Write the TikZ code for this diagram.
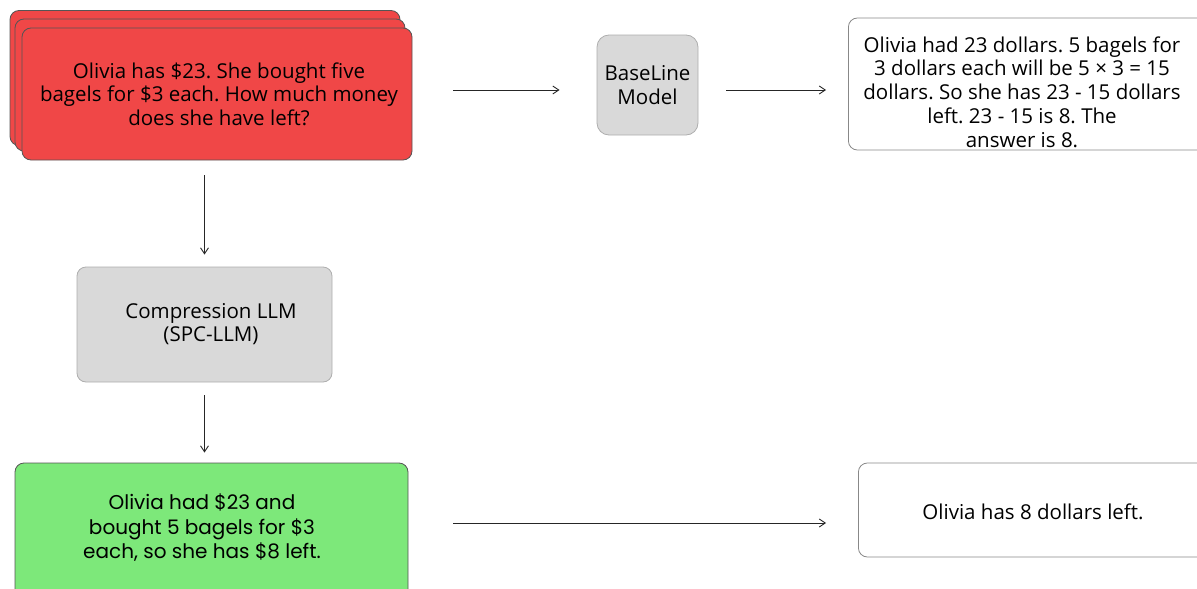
\documentclass[tikz,border=0pt]{standalone}
\usepackage{fontspec}
\setmainfont{Open Sans}
\newfontfamily\greenfont{Poppins}
\usetikzlibrary{arrows.meta}
\definecolor{redfill}{HTML}{F04747}
\definecolor{greenfill}{HTML}{7DE87A}
\definecolor{grayfill}{HTML}{D9D9D9}
\definecolor{edge}{HTML}{555555}
\frenchspacing
\tikzset{
  txt/.style={align=center, font=\fontsize{20.5}{23.8}\selectfont},
  box/.style={draw=edge, line width=0.8pt, rounded corners=9pt, align=center, inner sep=0pt, font=\fontsize{20.5}{24}\selectfont},
  redbox/.style={box, fill=redfill},
  graybox/.style={box, fill=grayfill, draw=grayfill!80!black},
  greenbox/.style={box, fill=greenfill},
  whitebox/.style={box, fill=white, draw=edge!70},
  conn/.style={-{Straight Barb[length=6pt,width=8pt]}, line width=0.9pt, draw=black!85},
}
\begin{document}
\begin{tikzpicture}[x=1pt,y=-1pt]
\useasboundingbox (0,0) rectangle (1197,589);
\clip (0,0) rectangle (1197,589);
% red stack
\node[redbox, minimum width=390pt, minimum height=135pt] (redback2) at (205,78) {};
\node[redbox, minimum width=390pt, minimum height=132pt] (redback1) at (210,85) {};
\node[redbox, minimum width=390pt, minimum height=132pt] (question) at (217,94) {};
\node[txt, font=\fontsize{20.5}{23.5}\selectfont] (qtext) at (219,94) {Olivia has \$23. She bought five\\bagels for \$3 each. How much money\\does she have left?};
% baseline
\node[graybox, minimum width=101pt, minimum height=100pt, rounded corners=12pt] (base) at (647.5,85) {BaseLine\\Model};
% output
\node[whitebox, minimum width=360pt, minimum height=132pt, anchor=west] (out) at (848,84) {};
\node[txt] (outtext) at (1022,92) {Olivia had 23 dollars. 5 bagels for\\3 dollars each will be 5 × 3 = 15\\dollars. So she has 23 - 15 dollars\\left. 23 - 15 is 8. The\\answer is 8.};
% compression
\node[graybox, minimum width=255pt, minimum height=115pt] (comp) at (204.5,324.5) {};
\node[txt] (comptext) at (211,324) {Compression LLM\\(SPC-LLM)};
% green
\node[greenbox, minimum width=393pt, minimum height=140pt] (green) at (211.5,533) {};
\node[txt, font=\greenfont\fontsize{20}{24.5}\selectfont] (greentext) at (202,528) {Olivia had \$23 and\\bought 5 bagels for \$3\\each, so she has \$8 left.};
% final
\node[whitebox, minimum width=360pt, minimum height=94pt, anchor=west] (final) at (858,510) {};
\node[txt] (ftext) at (1033,512) {Olivia has 8 dollars left.};
% connectors
\draw[conn, shorten <=41pt, shorten >=37pt] ([yshift=4pt]question.east) -- ([yshift=-5pt]base.west);
\draw[conn, shorten <=28pt, shorten >=22pt] ([yshift=-5pt]base.east) -- ([yshift=-6pt]out.west);
\draw[conn, shorten <=15pt, shorten >=12pt] (question.south -| comp.north) -- (comp.north);
\draw[conn, shorten <=13pt, shorten >=10pt] (comp.south) -- (green.north -| comp.south);
\draw[conn, shorten <=45pt, shorten >=32pt] ([yshift=10pt]green.east) -- ([yshift=-13pt]final.west);
\end{tikzpicture}
\end{document}
